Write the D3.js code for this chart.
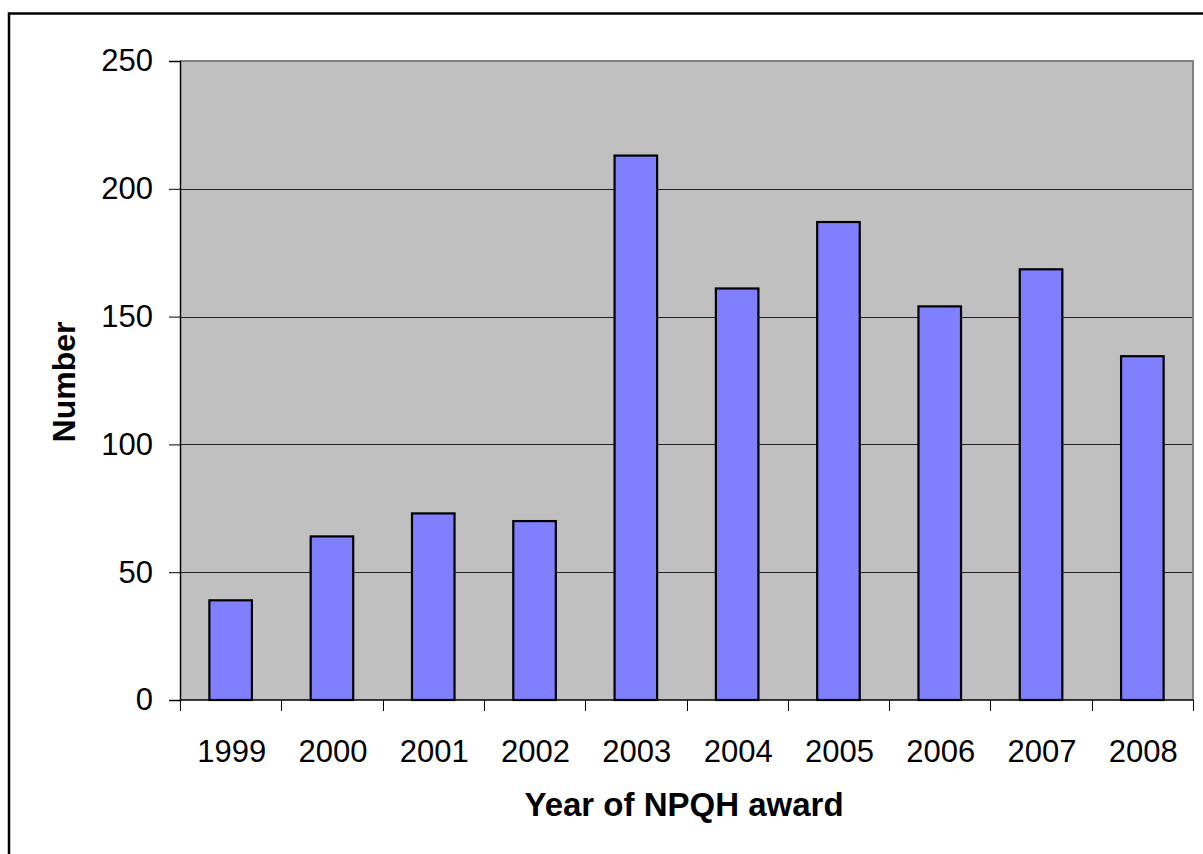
<!DOCTYPE html>
<html>
<head>
<meta charset="utf-8">
<script src="https://cdn.jsdelivr.net/npm/d3@7"></script>
<style>
  html, body { margin: 0; padding: 0; background: #fff; }
  svg { display: block; }
  text { font-family: "Liberation Sans", Arial, sans-serif; fill: #000; }
</style>
</head>
<body>
<svg id="chart" width="1203" height="854"></svg>
<script>
const years = ["1999","2000","2001","2002","2003","2004","2005","2006","2007","2008"];
const counts = [39, 64, 73, 70, 213, 161, 187, 154, 168.5, 134.5];
const yTicks = [0, 50, 100, 150, 200, 250];
const xTitle = "Year of NPQH award";
const yTitle = "Number";

const svg = d3.select("#chart");
const plot = { left: 180, top: 61, right: 1193, bottom: 700 };

// outer chart frame (extends past the visible picture)
svg.append("rect")
  .attr("x", 9).attr("y", 13.5)
  .attr("width", 1400).attr("height", 1200)
  .attr("fill", "#fff").attr("stroke", "#000").attr("stroke-width", 2.5);

const x = d3.scaleBand()
  .domain(years)
  .range([plot.left, plot.right])
  .paddingInner(0.58)
  .paddingOuter(0.29);

const y = d3.scaleLinear().domain([0, 250]).range([plot.bottom, plot.top]);

// plot background
svg.append("rect")
  .attr("x", plot.left).attr("y", plot.top)
  .attr("width", plot.right - plot.left).attr("height", plot.bottom - plot.top)
  .attr("fill", "#C0C0C0");

// gridlines
svg.append("g").selectAll("line")
  .data(yTicks.filter(t => t > 0 && t < 250))
  .join("line")
  .attr("x1", plot.left).attr("x2", plot.right)
  .attr("y1", d => Math.round(y(d)) + 0.5).attr("y2", d => Math.round(y(d)) + 0.5)
  .attr("stroke", "#222").attr("stroke-width", 1);

// plot border top/right (gray)
svg.append("path")
  .attr("d", `M${plot.left},${plot.top} H${plot.right} V${plot.bottom}`)
  .attr("fill", "none").attr("stroke", "#808080").attr("stroke-width", 2);

// bars
svg.append("g").selectAll("rect")
  .data(years.map((yr, i) => ({ yr, v: counts[i] })))
  .join("rect")
  .attr("x", d => x(d.yr))
  .attr("y", d => y(d.v))
  .attr("width", x.bandwidth())
  .attr("height", d => y(0) - y(d.v))
  .attr("fill", "#8080FF")
  .attr("stroke", "#000")
  .attr("stroke-width", 2.2);

// y axis
const yAxis = d3.axisLeft(y).tickValues(yTicks).tickSize(11).tickPadding(16);
const gy = svg.append("g").attr("transform", `translate(${plot.left},0)`).call(yAxis);
gy.select(".domain").attr("stroke", "#000").attr("stroke-width", 1.5);
gy.selectAll(".tick line").attr("stroke", "#000").attr("stroke-width", 1);
gy.selectAll(".tick text")
  .style("font-family", '"Liberation Sans", Arial, sans-serif')
  .style("font-size", "31px").attr("fill", "#000");

// x axis (ticks at category boundaries)
svg.append("line")
  .attr("x1", plot.left).attr("x2", plot.right)
  .attr("y1", plot.bottom).attr("y2", plot.bottom)
  .attr("stroke", "#000").attr("stroke-width", 1.5);
const step = x.step();
const bounds = years.map(yr => x(yr) - (step - x.bandwidth()) / 2).concat([plot.right]);
svg.append("g").selectAll("line")
  .data(bounds)
  .join("line")
  .attr("x1", d => Math.round(d) + 0.5).attr("x2", d => Math.round(d) + 0.5)
  .attr("y1", plot.bottom).attr("y2", plot.bottom + 11)
  .attr("stroke", "#000").attr("stroke-width", 1);

svg.append("g").selectAll("text")
  .data(years)
  .join("text")
  .attr("x", d => x(d) + x.bandwidth() / 2 + 1)
  .attr("y", 762)
  .attr("text-anchor", "middle")
  .style("font-size", "31px")
  .text(d => d);

// axis titles
svg.append("text")
  .attr("x", 684).attr("y", 816)
  .attr("text-anchor", "middle")
  .style("font-size", "33px").style("font-weight", "bold")
  .text(xTitle);

svg.append("text")
  .attr("transform", "translate(75,382) rotate(-90)")
  .attr("text-anchor", "middle")
  .style("font-size", "32px").style("font-weight", "bold")
  .text(yTitle);
</script>
</body>
</html>
